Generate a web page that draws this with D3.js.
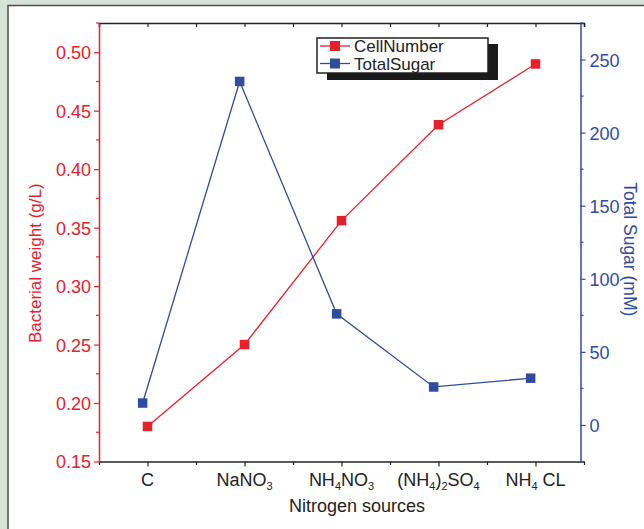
<!DOCTYPE html>
<html>
<head>
<meta charset="utf-8">
<script src="https://cdn.jsdelivr.net/npm/d3@7"></script>
<style>
  html, body { margin: 0; padding: 0; background: #d6e3d9; }
  svg { display: block; }
  text { font-family: 'Liberation Sans', Arial, sans-serif; }
</style>
</head>
<body>
<svg id="chart" width="644" height="529"></svg>
<script>
// categories use "_n" for a subscript digit
const categories = ['C', 'NaNO_3', 'NH_4NO_3', '(NH_4)_2SO_4', 'NH_4 CL'];
const cellNumber = [0.18, 0.25, 0.356, 0.438, 0.49];
const totalSugar = [15, 235, 76, 26, 32];
const leftTicks = [0.15, 0.2, 0.25, 0.3, 0.35, 0.4, 0.45, 0.5];
const rightTicks = [0, 50, 100, 150, 200, 250];
const seriesNames = ['CellNumber', 'TotalSugar'];

(function () {
  const red = '#e8202a';
  const blue = '#2f4d9f';

  const left = 99, right = 584, rightAxisX = 580.5, top = 23, bottom = 461.5;

  const svg = d3.select('#chart');

  // white panel
  svg.append('rect')
    .attr('x', 8).attr('y', 5.5)
    .attr('width', 660).attr('height', 560)
    .attr('fill', '#fff')
    .attr('stroke', '#4d4d4d')
    .attr('stroke-width', 1.5);

  const x = d3.scaleLinear().domain([-0.5, categories.length - 0.5]).range([left, right]);
  const yLeft = d3.scaleLinear().domain([0.15, 0.525]).range([bottom, top]);
  const yRight = d3.scaleLinear().domain([-25, 275]).range([bottom, top]);

  const halfSteps = d3.range(-0.5, categories.length - 0.49, 0.5);

  // top axis (ticks inward)
  svg.append('g')
    .attr('transform', `translate(0,${top})`)
    .call(d3.axisTop(x).tickValues(halfSteps).tickSize(-4).tickFormat(''))
    .call((g) => g.select('.domain').attr('stroke', '#222').attr('stroke-width', 1.5))
    .call((g) => g.selectAll('.tick line').attr('stroke', '#222').attr('stroke-width', 1.2))
    .call((g) => g.selectAll('.tick text').remove());

  // bottom axis
  svg.append('g')
    .attr('transform', `translate(0,${bottom})`)
    .call(d3.axisBottom(x).tickValues(halfSteps).tickSizeOuter(0).tickFormat(''))
    .call((g) => g.select('.domain').attr('stroke', '#222').attr('stroke-width', 1.5))
    .call((g) => g.selectAll('.tick text').remove())
    .call((g) => g.selectAll('.tick line')
      .attr('stroke', '#222').attr('stroke-width', 1.2)
      .attr('y2', (d) => (Number.isInteger(d) ? 5 : 3.5)));

  // x tick labels with subscripts
  const xLabels = svg.append('g')
    .attr('font-size', 18)
    .attr('fill', '#222');
  categories.forEach((cat, i) => {
    const t = xLabels.append('text')
      .attr('x', x(i))
      .attr('y', 486)
      .attr('text-anchor', 'middle');
    const parts = cat.split(/_(\d)/).filter((p) => p !== '');
    let shift = 0;
    cat.split(/_(\d)/).forEach((p, j) => {
      if (p === '') return;
      const sub = j % 2 === 1;
      const target = sub ? 4 : 0;
      t.append('tspan')
        .attr('font-size', sub ? 11 : 18)
        .attr('dy', target - shift)
        .text(p);
      shift = target;
    });
  });

  // left axis
  const leftMinor = leftTicks.map((d) => d + 0.025);
  const gl = svg.append('g').attr('transform', `translate(${left},0)`);
  gl.call(d3.axisLeft(yLeft).tickValues(leftTicks).tickSize(5).tickSizeOuter(0).tickPadding(3)
      .tickFormat(d3.format('.2f')))
    .call((g) => g.select('.domain').attr('stroke', red).attr('stroke-width', 1.5))
    .call((g) => g.selectAll('.tick line').attr('stroke', red).attr('stroke-width', 1.2))
    .call((g) => g.selectAll('.tick text')
      .attr('fill', red).attr('font-size', 18).attr('dy', '0.36em'));
  gl.selectAll('.minor').data(leftMinor).enter().append('line')
    .attr('x1', 0).attr('x2', -3)
    .attr('y1', (d) => yLeft(d)).attr('y2', (d) => yLeft(d))
    .attr('stroke', red).attr('stroke-width', 1.2);

  // right axis
  const rightMinor = [-25].concat(rightTicks.map((d) => d + 25));
  const gr = svg.append('g').attr('transform', `translate(${rightAxisX},0)`);
  gr.call(d3.axisRight(yRight).tickValues(rightTicks).tickSize(5).tickSizeOuter(0).tickPadding(4))
    .call((g) => g.select('.domain').attr('stroke', blue).attr('stroke-width', 1.5))
    .call((g) => g.selectAll('.tick line').attr('stroke', blue).attr('stroke-width', 1.2))
    .call((g) => g.selectAll('.tick text')
      .attr('fill', blue).attr('font-size', 18).attr('dy', '0.36em'));
  gr.selectAll('.minor').data(rightMinor).enter().append('line')
    .attr('x1', 0).attr('x2', 3)
    .attr('y1', (d) => yRight(d)).attr('y2', (d) => yRight(d))
    .attr('stroke', blue).attr('stroke-width', 1.2);

  svg.selectAll('g').attr('font-family', null);

  // axis titles
  svg.append('text')
    .attr('transform', `translate(41,${(top + bottom) / 2 + 21}) rotate(-90)`)
    .attr('text-anchor', 'middle')
    .attr('font-size', 17)
    .attr('fill', red)
    .text('Bacterial weight (g/L)');

  svg.append('text')
    .attr('transform', `translate(624,${(top + bottom) / 2 + 7}) rotate(90)`)
    .attr('text-anchor', 'middle')
    .attr('font-size', 17.5)
    .attr('fill', blue)
    .text('Total Sugar (mM)');

  svg.append('text')
    .attr('x', 357)
    .attr('y', 512)
    .attr('text-anchor', 'middle')
    .attr('font-size', 18)
    .attr('fill', '#222')
    .text('Nitrogen sources');

  // series
  const blueShift = -0.05;
  const redLine = d3.line().x((d, i) => x(i)).y((d) => yLeft(d));
  const blueLine = d3.line().x((d, i) => x(i + blueShift)).y((d) => yRight(d));

  svg.append('path')
    .datum(cellNumber)
    .attr('fill', 'none')
    .attr('stroke', red)
    .attr('stroke-width', 1.3)
    .attr('d', redLine);

  svg.append('path')
    .datum(totalSugar)
    .attr('fill', 'none')
    .attr('stroke', blue)
    .attr('stroke-width', 1.3)
    .attr('d', blueLine);

  const m = 9.5;
  svg.selectAll('.red-pt').data(cellNumber).enter().append('rect')
    .attr('x', (d, i) => x(i) - m / 2)
    .attr('y', (d) => yLeft(d) - m / 2)
    .attr('width', m).attr('height', m)
    .attr('fill', red);

  svg.selectAll('.blue-pt').data(totalSugar).enter().append('rect')
    .attr('x', (d, i) => x(i + blueShift) - m / 2)
    .attr('y', (d) => yRight(d) - m / 2)
    .attr('width', m).attr('height', m)
    .attr('fill', blue);

  // legend with drop shadow
  const legend = svg.append('g');
  legend.append('rect')
    .attr('x', 327).attr('y', 44)
    .attr('width', 171).attr('height', 36)
    .attr('fill', '#1a1a1a');
  legend.append('rect')
    .attr('x', 317).attr('y', 38)
    .attr('width', 171).attr('height', 35)
    .attr('fill', '#fff')
    .attr('stroke', '#222')
    .attr('stroke-width', 1.5);

  const colors = [red, blue];
  seriesNames.forEach((name, i) => {
    const cy = 46 + i * 17.5;
    legend.append('line')
      .attr('x1', 320).attr('x2', 350)
      .attr('y1', cy).attr('y2', cy)
      .attr('stroke', colors[i]).attr('stroke-width', 1.3);
    legend.append('rect')
      .attr('x', 335 - 5).attr('y', cy - 5)
      .attr('width', 10).attr('height', 10)
      .attr('fill', colors[i]);
    legend.append('text')
      .attr('x', 354)
      .attr('y', cy + 6)
      .attr('font-size', 17)
      .attr('fill', '#222')
      .text(name);
  });
})();
</script>
</body>
</html>
